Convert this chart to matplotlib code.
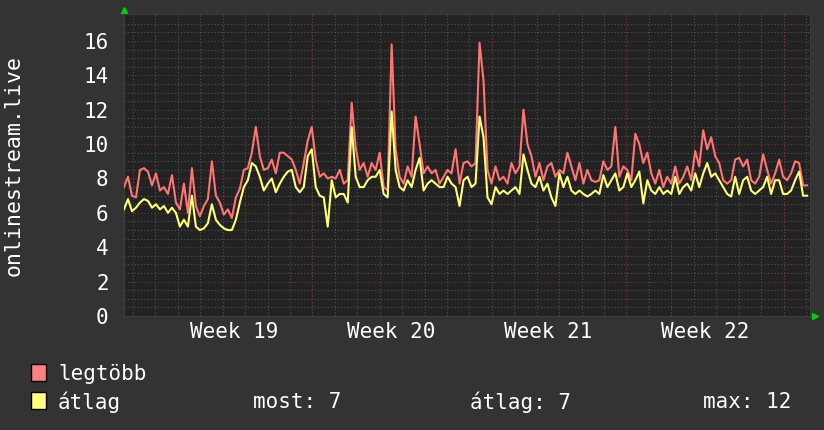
import numpy as np
import matplotlib.pyplot as plt
from matplotlib.patches import Rectangle

# legtöbb (max) and átlag (average), roughly 4 px apart in the original
legtobb = [7.5, 8.1, 7.0, 6.9, 8.5, 8.6, 8.4, 7.6, 8.3, 7.3,
           7.5, 7.1, 8.2, 6.6, 6.2, 7.7, 6.0, 8.6, 6.4, 5.8,
           6.4, 6.8, 9.0, 7.0, 6.6, 5.9, 6.2, 5.7, 6.9, 7.4,
           8.5, 8.6, 9.5, 11.0, 9.3, 8.5, 8.6, 9.1, 8.3, 9.5,
           9.5, 9.3, 9.1, 8.5, 7.7, 8.9, 10.2, 11.0, 9.1, 8.1,
           8.3, 8.0, 8.1, 8.0, 8.5, 7.7, 7.9, 12.4, 9.8, 8.5,
           8.9, 8.1, 8.9, 8.5, 9.5, 7.5, 7.3, 15.8, 9.7, 8.1,
           7.7, 8.7, 8.1, 11.6, 10.0, 8.3, 8.7, 8.3, 8.5, 7.7,
           8.1, 8.5, 8.3, 9.7, 7.7, 8.9, 9.0, 8.7, 8.9, 15.9,
           13.7, 8.5, 7.7, 8.7, 7.9, 8.1, 7.7, 8.9, 8.3, 8.7,
           12.0, 10.0, 9.3, 8.1, 8.9, 7.9, 8.7, 8.9, 8.1, 8.5,
           8.3, 9.5, 8.7, 7.9, 8.9, 7.7, 8.5, 7.9, 7.8, 7.9,
           9.0, 8.5, 8.7, 11.0, 8.1, 8.7, 8.5, 7.9, 10.6, 10.0,
           8.9, 9.5, 8.3, 7.7, 8.5, 7.5, 8.1, 7.7, 8.7, 7.7,
           8.1, 8.7, 7.9, 9.6, 8.7, 10.8, 9.7, 10.4, 9.3, 8.9,
           7.9, 7.7, 7.9, 9.1, 9.2, 8.7, 9.1, 7.9, 7.7, 8.1,
           9.4, 8.5, 7.7, 8.3, 9.1, 8.1, 7.9, 8.3, 9.0, 8.9,
           7.6, 7.6]
atlag = [6.2, 6.8, 6.1, 6.3, 6.6, 6.8, 6.7, 6.3, 6.5, 6.2,
         6.4, 6.0, 6.3, 6.0, 5.2, 5.6, 5.2, 7.0, 5.2, 5.0,
         5.1, 5.4, 6.5, 5.6, 5.3, 5.1, 5.0, 5.0, 5.6, 6.6,
         7.5, 7.9, 8.9, 8.7, 8.1, 7.3, 7.7, 8.0, 7.2, 7.7,
         8.1, 8.4, 8.5, 7.5, 7.2, 7.5, 9.3, 9.7, 7.5, 7.0,
         6.9, 5.2, 7.9, 6.9, 7.1, 7.1, 6.6, 11.0, 8.1, 7.5,
         7.5, 7.9, 8.1, 8.1, 8.5, 7.1, 6.9, 11.9, 8.5, 7.5,
         7.3, 7.9, 7.5, 8.5, 9.2, 7.3, 7.7, 7.9, 7.7, 7.5,
         7.5, 8.1, 7.7, 7.5, 6.4, 7.9, 8.1, 7.5, 7.7, 11.6,
         10.4, 6.9, 6.5, 7.5, 7.1, 7.3, 7.1, 7.3, 7.5, 7.1,
         9.4, 8.5, 7.7, 7.5, 8.1, 7.3, 7.7, 6.9, 6.4, 8.3,
         7.5, 8.1, 7.3, 7.1, 7.3, 7.1, 6.95, 7.1, 7.3, 7.1,
         8.2, 7.5, 7.9, 8.3, 7.3, 7.5, 8.3, 7.5, 7.9, 8.4,
         6.55, 7.9, 7.3, 7.1, 7.5, 7.1, 7.3, 7.1, 8.1, 7.1,
         7.5, 7.7, 7.3, 8.3, 7.5, 8.3, 8.9, 8.1, 8.3, 7.9,
         7.5, 7.1, 6.95, 8.1, 7.1, 7.9, 8.1, 7.3, 7.1, 7.3,
         7.5, 8.1, 7.1, 7.9, 7.9, 7.1, 7.1, 7.3, 7.9, 8.4,
         7.0, 7.0]
week_labels = ["Week 19", "Week 20", "Week 21", "Week 22"]
summary = ["most: 7", "átlag: 7", "max: 12"]

# time axis in days, plot spans ~30.6 days
t = np.linspace(0, 30.45, len(legtobb))

mono = "DejaVu Sans Mono"
W, H = 824, 430
fig = plt.figure(figsize=(W / 100, H / 100), dpi=100, facecolor="#333333")
ax = fig.add_axes([124 / W, 114 / H, 686 / W, 302 / H])
ax.set_facecolor("#222222")

ax.set_xlim(0, 30.58)
ax.set_ylim(0, 17.57)

# grid: minor gray dotted, major red dotted
for y in np.arange(0.5, 17.5, 0.5):
    c = "#713636" if y % 2 == 0 else "#555555"
    ax.axhline(y, color=c, lw=0.8, ls=(0, (1, 2)), zorder=1)
for d in np.arange(0.4, 30.5, 1.0):
    ax.axvline(d, color="#555555", lw=0.8, ls=(0, (1, 2)), zorder=1)
for d in np.arange(1.4, 30.5, 7.0):
    ax.axvline(d, color="#713636", lw=0.8, ls=(0, (1, 2)), zorder=1)

ax.plot(t, legtobb, color="#ff7575", lw=1.5, zorder=3)
ax.plot(t, atlag, color="#ffff75", lw=1.5, zorder=4)

ax.set_yticks(range(0, 17, 2))
ax.set_xticks([4.9 + 7 * k for k in range(4)], week_labels)
ax.tick_params(axis="y", length=0, pad=11, labelsize=15, labelcolor="white")
ax.tick_params(axis="x", length=0, pad=4, labelsize=15, labelcolor="white")
for lbl in ax.get_xticklabels() + ax.get_yticklabels():
    lbl.set_family(mono)
for s in ax.spines.values():
    s.set_color("#3c3c3c")

# green arrows at axis ends
ax.plot([0], [1.012], marker="^", color="#00d000", ms=5, transform=ax.transAxes, clip_on=False)
ax.plot([1.008], [0], marker=">", color="#00d000", ms=5, transform=ax.transAxes, clip_on=False)

fig.text(14 / W, 1 - 165 / H, "onlinestream.live", rotation=90, family=mono,
         fontsize=15.5, color="white", ha="center", va="center")

# legend
fig.add_artist(Rectangle((31 / W, 1 - 381 / H), 15 / W, 17 / H, facecolor="#ff8080",
                         edgecolor="black", lw=1, transform=fig.transFigure))
fig.add_artist(Rectangle((31 / W, 1 - 409 / H), 15 / W, 17 / H, facecolor="#ffff80",
                         edgecolor="black", lw=1, transform=fig.transFigure))
fig.text(58 / W, 1 - 374 / H, "legtöbb", family=mono, fontsize=15, color="white", va="center")
fig.text(58 / W, 1 - 402 / H, "átlag", family=mono, fontsize=15, color="white", va="center")
for x, s in zip([253, 470, 703], summary):
    fig.text(x / W, 1 - 402 / H, s, family=mono, fontsize=15, color="white", va="center")

fig.savefig("out.png", dpi=100, facecolor=fig.get_facecolor())
